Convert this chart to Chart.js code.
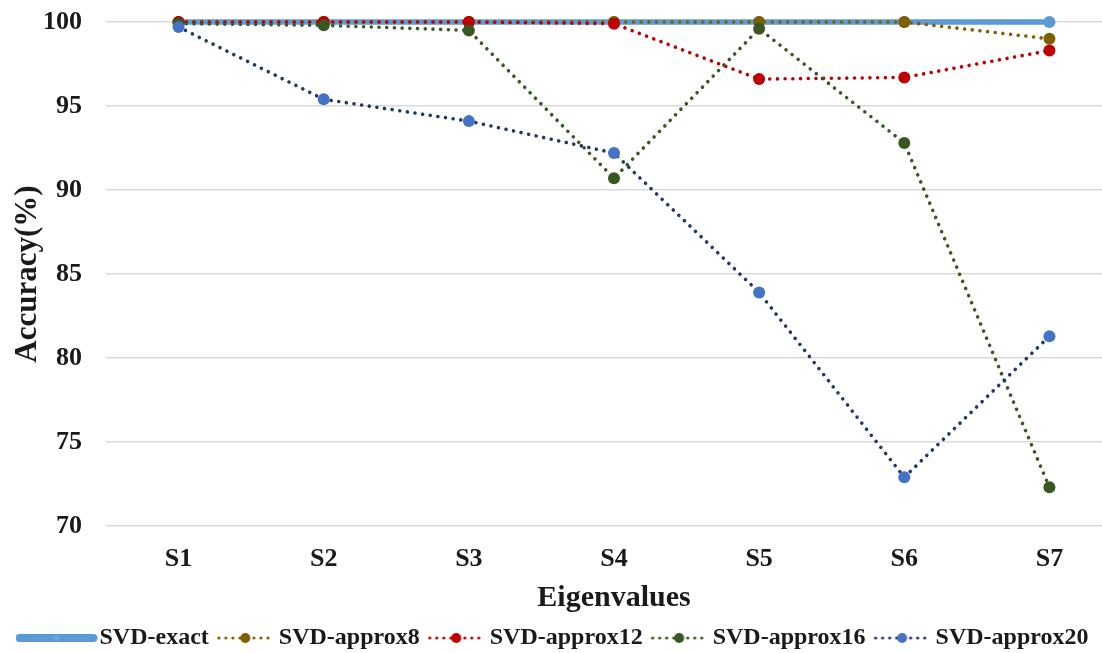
<!DOCTYPE html>
<html>
<head>
<meta charset="utf-8">
<script src="https://cdn.jsdelivr.net/npm/chart.js@4"></script>
<style>
  html, body { margin: 0; padding: 0; background: #ffffff; overflow: hidden; }
  #wrap { width: 1102px; height: 653px; overflow: hidden; position: relative; }
  canvas { display: block; }
</style>
</head>
<body>
<div id="wrap"><canvas id="chart" width="1128" height="660"></canvas></div>
<script>
// Eigenvalue sets on the x axis
const categories = ['S1', 'S2', 'S3', 'S4', 'S5', 'S6', 'S7'];

// Accuracy (%) of each SVD variant
const svdExact    = [100, 100, 100, 100, 100, 100, 100];
const svdApprox8  = [100, 100, 100, 100, 100, 100, 99.0];
const svdApprox12 = [100, 100, 100, 99.9, 96.6, 96.7, 98.3];
const svdApprox16 = [99.9, 99.8, 99.5, 90.7, 99.6, 92.8, 72.3];
const svdApprox20 = [99.7, 95.4, 94.1, 92.2, 83.9, 72.9, 81.3];

const seriesNames = ['SVD-exact', 'SVD-approx8', 'SVD-approx12', 'SVD-approx16', 'SVD-approx20'];

// Y axis range and tick step
const yMin = 70, yMax = 100, yStep = 5;

const FONT = '"Liberation Serif", "Times New Roman", serif';
const TEXT = '#1a1a1a';

const DOTS = [0.01, 7.7];
const styles = [
  { line: '#5B9BD5', point: '#5B9BD5', width: 5.5, dash: [] },
  { line: '#7F6000', point: '#7F6000', width: 3.6, dash: DOTS },
  { line: '#C00000', point: '#C00000', width: 3.6, dash: DOTS },
  { line: '#385723', point: '#385723', width: 3.6, dash: DOTS },
  { line: '#203864', point: '#4472C4', width: 3.6, dash: DOTS }
];

// Legend samples: a short line with a marker, painted on small canvases
function makeSample(style, solid) {
  const c = document.createElement('canvas');
  const h = 24;
  let from, to;
  if (solid) { c.width = 96; from = 0; to = 82; }
  else { c.width = 62; from = 5; to = 62; }
  c.height = h;
  const g = c.getContext('2d');
  g.strokeStyle = style.line;
  g.lineCap = 'round';
  if (solid) {
    g.lineWidth = 8;
    g.beginPath(); g.moveTo(from + 4, h / 2); g.lineTo(to - 4, h / 2); g.stroke();
    g.fillStyle = '#6aa6dc';
    g.beginPath(); g.arc((from + to) / 2, h / 2, 3, 0, Math.PI * 2); g.fill();
  } else {
    g.lineWidth = 3.2;
    g.setLineDash([0.01, 7]);
    g.beginPath(); g.moveTo(from + 2, h / 2); g.lineTo(to, h / 2); g.stroke();
    g.fillStyle = style.point;
    g.beginPath(); g.arc((from + to) / 2, h / 2, 5, 0, Math.PI * 2); g.fill();
  }
  return c;
}
const samples = styles.map((s, i) => makeSample(s, i === 0));

const values = [svdExact, svdApprox8, svdApprox12, svdApprox16, svdApprox20];

const datasets = values.map((v, i) => ({
  label: seriesNames[i],
  data: v,
  borderColor: styles[i].line,
  backgroundColor: styles[i].point,
  pointBackgroundColor: styles[i].point,
  pointBorderColor: styles[i].point,
  borderWidth: styles[i].width,
  borderDash: styles[i].dash,
  borderCapStyle: 'round',
  pointRadius: 6,
  pointBorderWidth: 0,
  tension: 0,
  clip: false,
  order: values.length - i
}));

new Chart(document.getElementById('chart'), {
  type: 'line',
  data: { labels: categories, datasets },
  options: {
    responsive: false,
    animation: false,
    events: [],
    layout: { padding: { top: 22, right: 0, left: 0, bottom: 0 } },
    scales: {
      x: {
        offset: true,
        grid: { display: false, drawTicks: false },
        border: { display: false },
        ticks: { color: TEXT, padding: 18, font: { family: FONT, size: 26, weight: 'bold' } },
        title: {
          display: true, text: 'Eigenvalues', color: TEXT,
          font: { family: FONT, size: 30, weight: 'bold' },
          padding: { top: 0, bottom: 0 }
        },
        afterFit: s => { s.height = 90; }
      },
      y: {
        min: yMin, max: yMax,
        grid: { color: '#d9d9d9', lineWidth: 1.5, drawTicks: false },
        border: { display: false },
        ticks: { stepSize: yStep, color: TEXT, padding: 24, font: { family: FONT, size: 26, weight: 'bold' } },
        title: {
          display: true, text: 'Accuracy(%)', color: TEXT,
          font: { family: FONT, size: 31, weight: 'bold' },
          padding: { top: 9, bottom: 0 }
        },
        afterFit: s => { s.width = 106; s.paddingTop = 0; s.paddingBottom = 0; }
      }
    },
    plugins: {
      tooltip: { enabled: false },
      legend: {
        position: 'bottom',
        labels: {
          usePointStyle: true,
          pointStyleWidth: 48,
          boxHeight: 24,
          padding: 10,
          color: TEXT,
          font: { family: FONT, size: 24, weight: 'bold' },
          generateLabels: chart => chart.data.datasets.map((ds, i) => ({
            text: ds.label,
            pointStyle: samples[i],
            fillStyle: 'transparent',
            strokeStyle: 'transparent',
            lineWidth: 0,
            fontColor: TEXT,
            hidden: !chart.isDatasetVisible(i),
            datasetIndex: i
          }))
        }
      }
    }
  }
});
</script>
</body>
</html>
